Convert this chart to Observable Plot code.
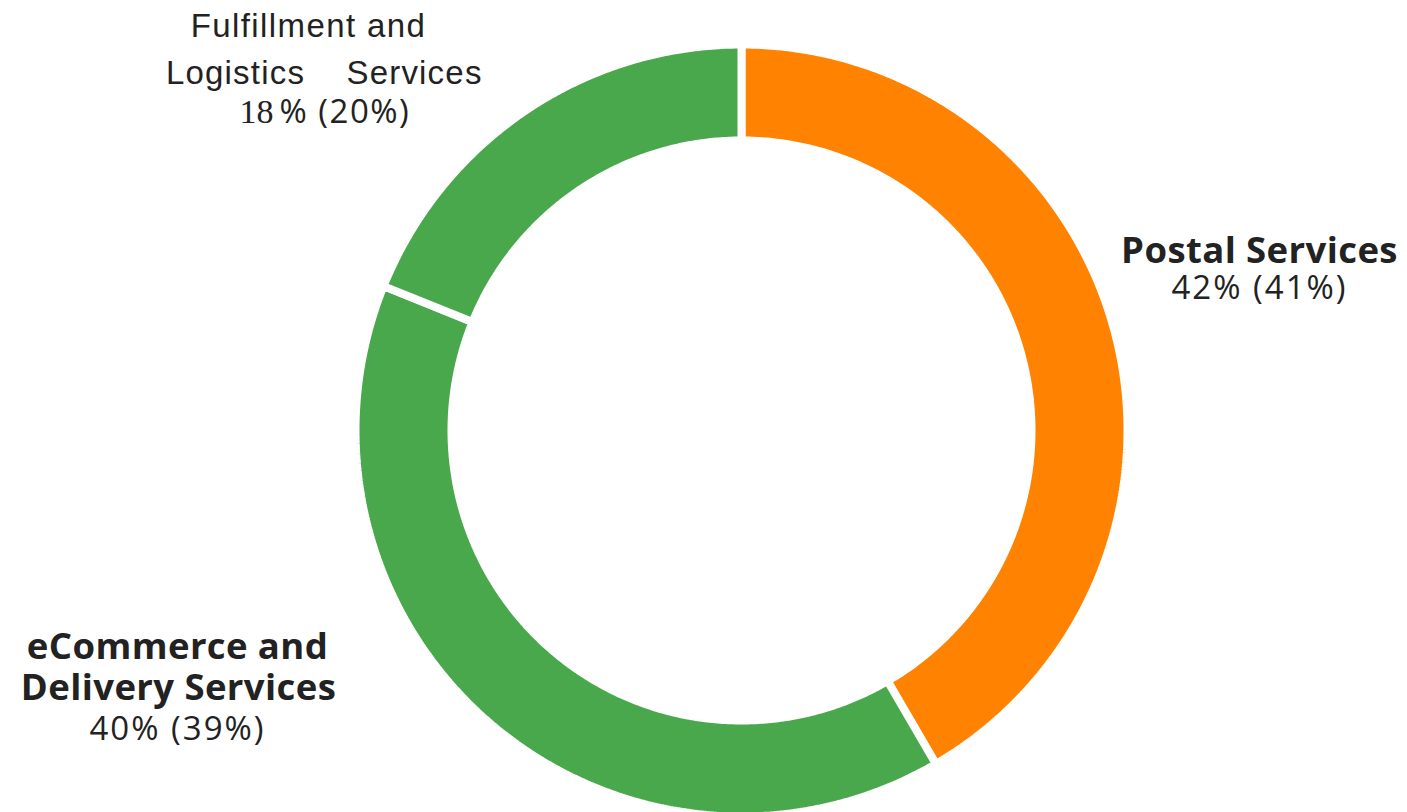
<!DOCTYPE html>
<html>
<head>
<meta charset="utf-8">
<script src="https://cdn.jsdelivr.net/npm/d3@7"></script>
<script src="https://cdn.jsdelivr.net/npm/@observablehq/plot@0.6"></script>
<style>
  html, body { margin: 0; padding: 0; background: #fff; }
  #chart svg { display: block; }
</style>
</head>
<body>
<div id="chart"></div>
<script>
// ---- data ----
const categories = ["Postal Services", "eCommerce and Delivery Services", "Fulfillment and Logistics Services"];
const shares = [42, 40, 18];            // labelled share (%)
const priorShares = [41, 39, 20];       // prior share (%) in parentheses
const arcValues = [41.6, 39.5, 18.9];   // slice sizes as drawn
const sliceColors = ["#ff8200", "#4aa84c", "#4aa84c"];

// ---- geometry ----
const W = 1407, H = 812;
const cx = 741, cy = 430, Rpx = 386;   // ring centre / outer radius in px
const innerRatio = 290 / 386;
const gap = 8;

const pie = d3.pie().sort(null).value(d => d)(arcValues);
const poly = [];
pie.forEach((p, i) => {
  const a0 = p.startAngle, a1 = p.endAngle;
  const n = Math.max(2, Math.ceil((a1 - a0) / (Math.PI / 360)));
  const pts = [];
  for (let k = 0; k <= n; k++) {
    const a = a0 + (a1 - a0) * k / n;
    pts.push([Math.sin(a), Math.cos(a)]);
  }
  for (let k = n; k >= 0; k--) {
    const a = a0 + (a1 - a0) * k / n;
    pts.push([innerRatio * Math.sin(a), innerRatio * Math.cos(a)]);
  }
  pts.push(pts[0]);
  pts.forEach(([x, y]) => poly.push({cat: categories[i], x, y}));
});

// label layout (pixel anchors converted to unit coords)
const ux = px => (px - cx) / Rpx;
const uy = py => (cy - py) / Rpx;
const SANS = "Open Sans";
const lines = [
  {text: categories[0], x: 1259, base: 262, size: 36.5, weight: 700, font: SANS, anchor: "middle", ls: 0.4},
  {text: `${shares[0]}% (${priorShares[0]}%)`, x: 1259, base: 298, size: 33, weight: 400, font: SANS, anchor: "middle", ls: 2},
  {text: "eCommerce and", x: 177, base: 658, size: 36.5, weight: 700, font: SANS, anchor: "middle", ls: 0.4},
  {text: "Delivery Services", x: 178, base: 699, size: 36.5, weight: 700, font: SANS, anchor: "middle", ls: 0.4},
  {text: `${shares[1]}% (${priorShares[1]}%)`, x: 177, base: 739, size: 33, weight: 400, font: SANS, anchor: "middle", ls: 2},
  {text: "Fulfillment and", x: 308, base: 36, size: 33, weight: 400, font: "Liberation Sans", anchor: "middle", ls: 1.4},
  {text: "Logistics", x: 235, base: 83, size: 33, weight: 400, font: "Liberation Sans", anchor: "middle", ls: 1.2},
  {text: "Services", x: 414, base: 83, size: 33, weight: 400, font: "Liberation Sans", anchor: "middle", ls: 1.2},
  {text: `${shares[2]}`, x: 273, base: 122, size: 34, weight: 400, font: "Liberation Serif", anchor: "end"},
  {text: `% (${priorShares[2]}%)`, x: 279, base: 122, size: 33, weight: 400, font: SANS, anchor: "start", ls: 1.5}
];

const textMarks = lines.map(l => Plot.text([l], {
  x: ux(l.x), y: uy(l.base - 0.32 * l.size),
  text: d => d.text,
  fontSize: l.size, fontWeight: l.weight, fontFamily: l.font,
  fill: "#222", textAnchor: l.anchor
}));

const chart = Plot.plot({
  width: W, height: H,
  margin: 0,
  style: {background: "#fff", overflow: "visible"},
  x: {domain: [-1, 1], range: [cx - Rpx, cx + Rpx], axis: null},
  y: {domain: [-1, 1], range: [cy + Rpx, cy - Rpx], axis: null},
  color: {domain: categories, range: sliceColors},
  marks: [
    Plot.line(poly, {
      x: "x", y: "y", z: "cat", fill: "cat",
      stroke: "#fff", strokeWidth: gap, strokeLinejoin: "miter", curve: "linear"
    }),
    ...textMarks
  ]
});
// letter spacing per line
const texts = chart.querySelectorAll("g[aria-label='text'] text");
texts.forEach((t, i) => { if (lines[i] && lines[i].ls) t.setAttribute("letter-spacing", lines[i].ls); });
document.getElementById("chart").appendChild(chart);
</script>
</body>
</html>
